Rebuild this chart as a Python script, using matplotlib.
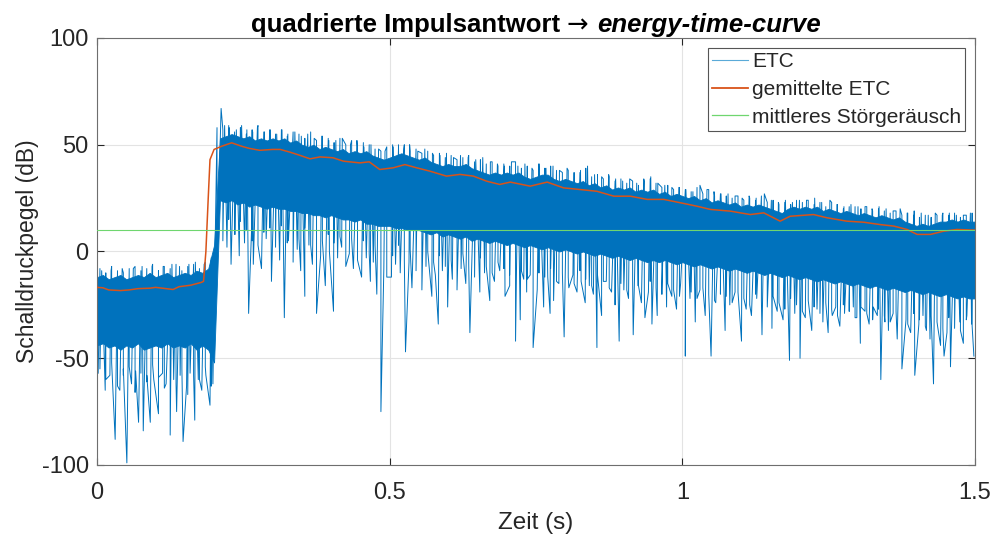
import numpy as np
import matplotlib
matplotlib.use("Agg")
import matplotlib.pyplot as plt
from matplotlib.lines import Line2D
from matplotlib.offsetbox import TextArea, HPacker, AnchoredOffsetbox

plt.rcParams["font.family"] = ["Liberation Sans", "DejaVu Sans"]
plt.rcParams["axes.unicode_minus"] = False

# ETC band: solid top / solid bottom, sampled every 10 ms from 0 to 1.5 s
t_band = np.arange(151) * 0.01
etc_hi = [
    -12, -11, -13, -12, -11, -13, -12, -11, -12, -10,
    -12, -11, -10, -12, -11, -10, -11, -9, -10, -8,
    3, 53, 54, 55, 54, 53, 54, 52, 53, 52,
    53, 52, 53, 51, 52, 50, 49, 50, 48, 49,
    48, 47, 48, 46, 47, 46, 47, 45, 44, 43,
    44, 45, 46, 45, 44, 43, 44, 42, 41, 40,
    41, 40, 40, 41, 39, 38, 37, 36, 37, 36,
    37, 36, 37, 35, 34, 35, 36, 36, 34, 33,
    34, 33, 32, 33, 31, 32, 30, 31, 29, 30,
    29, 30, 28, 29, 28, 29, 27, 28, 26, 27,
    26, 25, 26, 24, 25, 23, 24, 23, 22, 23,
    21, 22, 21, 22, 21, 20, 19, 18, 20, 21,
    20, 21, 20, 21, 19, 20, 19, 18, 19, 18,
    17, 18, 17, 16, 17, 16, 15, 16, 14, 13,
    12, 13, 12, 13, 14, 14, 15, 14, 15, 14,
    14,
]
etc_lo = [
    -44, -43, -45, -44, -46, -44, -45, -43, -46, -45,
    -44, -45, -43, -45, -44, -45, -43, -46, -44, -46,
    -52, 24, 23, 24, 22, 23, 21, 22, 21, 20,
    21, 20, 20, 19, 19, 18, 18, 17, 17, 16,
    17, 16, 15, 15, 14, 15, 13, 13, 12, 12,
    12, 11, 11, 10, 10, 10, 9, 8, 9, 7,
    8, 7, 6, 7, 5, 6, 5, 4, 5, 4,
    3, 4, 3, 2, 3, 2, 1, 2, 1, 0,
    1, 0, -1, 0, -1, -2, -1, -2, -3, -2,
    -3, -4, -3, -4, -5, -4, -5, -4, -5, -6,
    -5, -6, -7, -6, -7, -8, -7, -8, -9, -8,
    -9, -10, -9, -10, -11, -10, -11, -12, -11, -12,
    -13, -12, -13, -14, -13, -14, -15, -14, -15, -16,
    -15, -16, -17, -16, -17, -18, -17, -18, -19, -18,
    -19, -20, -19, -20, -21, -20, -21, -22, -21, -22,
    -22,
]

# ragged fringe of the ETC, sampled halfway between the band samples
t_fringe = np.arange(150) * 0.01 + 0.005
fringe_hi = [
    -8, -10, -7, -9, -10, -8, -7, -9, -8, -6,
    -9, -7, -8, -6, -9, -7, -6, -8, -5, -3,
    58, 57, 59, 56, 58, 55, 57, 59, 56, 57,
    55, 57, 54, 56, 55, 53, 56, 52, 54, 53,
    51, 53, 50, 52, 49, 51, 50, 48, 47, 49,
    50, 48, 50, 47, 48, 46, 47, 45, 46, 44,
    45, 43, 44, 45, 42, 43, 41, 42, 40, 41,
    40, 42, 39, 40, 38, 41, 39, 40, 38, 37,
    38, 36, 37, 39, 35, 36, 34, 35, 33, 34,
    32, 33, 31, 33, 34, 32, 30, 31, 29, 30,
    29, 28, 30, 27, 29, 26, 27, 26, 25, 26,
    24, 25, 24, 26, 23, 24, 22, 23, 22, 24,
    23, 24, 22, 23, 21, 23, 22, 20, 21, 21,
    20, 21, 19, 20, 19, 18, 19, 17, 18, 17,
    16, 17, 16, 17, 18, 17, 18, 16, 17, 18,
]
fringe_lo = [
    -55, -60, -52, -63, -58, -54, -66, -57, -61, -53,
    -59, -64, -56, -62, -55, -67, -58, -60, -54, -63,
    -5, 12, 15, 8, 14, 10, 5, 13, 9, 11,
    7, 12, 4, 10, 6, 11, 3, 9, 5, 8,
    4, 7, 1, 6, 2, 5, -1, 3, 0, 2,
    -2, 3, -4, 1, -3, -6, 0, -5, -2, -7,
    -4, -8, -1, -6, -9, -3, -7, -10, -5, -8,
    -11, -6, -9, -13, -7, -10, -12, -8, -14, -10,
    -12, -15, -9, -13, -16, -11, -14, -17, -12, -15,
    -18, -13, -16, -19, -14, -17, -20, -15, -18, -21,
    -16, -19, -22, -17, -20, -23, -18, -21, -24, -19,
    -22, -25, -20, -23, -26, -21, -24, -27, -22, -25,
    -28, -23, -26, -29, -24, -27, -30, -25, -28, -31,
    -26, -29, -32, -27, -30, -33, -28, -31, -34, -29,
    -32, -35, -30, -33, -36, -31, -34, -37, -32, -35,
]

# single downward spikes of the ETC (s, dB)
dip_t = [
    0.002, 0.014, 0.022, 0.031, 0.039, 0.045, 0.051, 0.059, 0.066, 0.071,
    0.079, 0.085, 0.091, 0.097, 0.105, 0.112, 0.118, 0.125, 0.131, 0.136,
    0.142, 0.147, 0.153, 0.159, 0.167, 0.173, 0.179, 0.186, 0.193, 0.198,
    0.215, 0.222, 0.229, 0.236, 0.243, 0.252, 0.259, 0.264, 0.267, 0.275,
    0.281, 0.289, 0.298, 0.305, 0.312, 0.320, 0.327, 0.335, 0.342, 0.348,
    0.355, 0.362, 0.368, 0.375, 0.382, 0.390, 0.397, 0.404, 0.411, 0.418,
    0.425, 0.431, 0.438, 0.445, 0.452, 0.460, 0.467, 0.472, 0.478, 0.485,
    0.490, 0.495, 0.503, 0.510, 0.518, 0.527, 0.533, 0.538, 0.545, 0.555,
    0.562, 0.572, 0.578, 0.583, 0.590, 0.599, 0.607, 0.615, 0.622, 0.630,
    0.637, 0.645, 0.654, 0.662, 0.671, 0.679, 0.688, 0.697, 0.705, 0.715,
    0.723, 0.729, 0.734, 0.740, 0.745, 0.752, 0.763, 0.770, 0.774, 0.780,
    0.789, 0.798, 0.806, 0.813, 0.820, 0.827, 0.834, 0.841, 0.848, 0.854,
    0.862, 0.870, 0.879, 0.885, 0.892, 0.900, 0.908, 0.916, 0.924, 0.930,
    0.936, 0.942, 0.948, 0.957, 0.965, 0.973, 0.982, 0.990, 0.997, 1.005,
    1.013, 1.022, 1.030, 1.039, 1.049, 1.057, 1.065, 1.073, 1.081, 1.090,
    1.101, 1.109, 1.118, 1.127, 1.136, 1.145, 1.153, 1.162, 1.172, 1.183,
    1.192, 1.201, 1.210, 1.221, 1.230, 1.240, 1.249, 1.256, 1.262, 1.269,
    1.277, 1.285, 1.292, 1.298, 1.304, 1.312, 1.319, 1.326, 1.333, 1.339,
    1.346, 1.352, 1.360, 1.367, 1.375, 1.382, 1.390, 1.397, 1.404, 1.411,
    1.417, 1.423, 1.429, 1.436, 1.441, 1.447, 1.452, 1.458, 1.465, 1.474,
    1.480, 1.486, 1.494, 1.498,
]
dip_db = [
    -57, -65, -58, -88, -65, -55, -99, -62, -56, -80,
    -84, -58, -80, -60, -76, -57, -62, -86, -60, -75,
    -58, -89, -63, -57, -79, -60, -65, -58, -72, -62,
    5, 2, -6, 8, -2, 4, -29, 10, -6, 3,
    -8, 6, -14, 2, -4, -31, 5, -5, 1, -9,
    -21, 3, -6, -29, -2, -16, 0, -28, -3, 2,
    -7, -1, -8, -4, -12, -3, -14, -5, -20, -75,
    -8, -12, -12, -6, -10, -47, -5, -17, -9, -18,
    -7, -21, -11, -34, -9, -26, -13, -18, -8, -15,
    -38, -12, -19, -10, -23, -14, -9, -21, -16, -42,
    -32, -13, -19, -11, -45, -18, -26, -12, -29, -23,
    -15, -40, -17, -11, -19, -14, -24, -16, -20, -45,
    -30, -14, -19, -25, -42, -18, -22, -39, -16, -24,
    -31, -19, -34, -30, -18, -26, -21, -27, -15, -49,
    -22, -33, -18, -30, -49, -24, -20, -37, -25, -19,
    -42, -27, -30, -22, -39, -26, -36, -28, -32, -51,
    -29, -50, -31, -37, -27, -33, -38, -30, -26, -35,
    -29, -24, -26, -31, -43, -28, -34, -26, -30, -60,
    -33, -37, -29, -41, -55, -32, -38, -58, -34, -30,
    -37, -41, -62, -35, -44, -49, -38, -54, -36, -33,
    -43, -30, -34, -49,
]

# single upward spikes of the ETC (s, dB)
peak_t = [
    0.008, 0.024, 0.043, 0.062, 0.077, 0.094, 0.113, 0.128, 0.141, 0.157,
    0.168, 0.183, 0.195, 0.212, 0.218, 0.226, 0.238, 0.247, 0.256, 0.266,
    0.274, 0.286, 0.296, 0.307, 0.316, 0.326, 0.338, 0.349, 0.360, 0.371,
    0.384, 0.396, 0.408, 0.419, 0.433, 0.444, 0.456, 0.468, 0.481, 0.492,
    0.506, 0.515, 0.524, 0.534, 0.548, 0.560, 0.573, 0.586, 0.597, 0.609,
    0.621, 0.634, 0.647, 0.659, 0.672, 0.684, 0.696, 0.708, 0.719, 0.731,
    0.743, 0.755, 0.767, 0.779, 0.790, 0.803, 0.815, 0.826, 0.838, 0.850,
    0.862, 0.874, 0.886, 0.898, 0.910, 0.922, 0.934, 0.946, 0.958, 0.970,
    0.982, 0.994, 1.006, 1.018, 1.030, 1.042, 1.054, 1.066, 1.078, 1.090,
    1.102, 1.114, 1.126, 1.140, 1.152, 1.164, 1.176, 1.188, 1.200, 1.212,
    1.226, 1.238, 1.252, 1.264, 1.276, 1.288, 1.300, 1.312, 1.324, 1.336,
    1.348, 1.360, 1.372, 1.384, 1.396, 1.408, 1.420, 1.432, 1.444, 1.456,
    1.468, 1.480, 1.492,
]
peak_db = [
    -9, -9, -8, -8, -7, -7, -7, -6, -7, -6,
    -5, -6, -4, 67, 59, 58, 57, 59, 57, 56,
    58, 56, 57, 55, 57, 55, 56, 54, 55, 53,
    54, 52, 52, 53, 50, 52, 49, 50, 48, 47,
    49, 50, 48, 50, 47, 48, 46, 45, 46, 44,
    45, 44, 43, 44, 42, 41, 40, 42, 40, 41,
    39, 41, 39, 40, 38, 39, 37, 38, 40, 36,
    35, 36, 34, 33, 34, 32, 34, 35, 32, 31,
    30, 30, 29, 28, 31, 29, 28, 27, 27, 26,
    25, 26, 25, 27, 24, 23, 24, 23, 24, 24,
    25, 23, 24, 22, 21, 22, 21, 21, 20, 21,
    20, 19, 20, 18, 19, 18, 17, 18, 17, 18,
    17, 17, 18,
]

# averaged ETC
avg_t = [
    0.0, 0.01, 0.02, 0.04, 0.055, 0.07, 0.09, 0.10, 0.115, 0.13,
    0.14, 0.16, 0.178, 0.182, 0.186, 0.19, 0.193, 0.20, 0.213, 0.23,
    0.247, 0.26, 0.278, 0.30, 0.313, 0.33, 0.347, 0.364, 0.381, 0.403,
    0.421, 0.449, 0.465, 0.483, 0.506, 0.526, 0.546, 0.569, 0.597, 0.62,
    0.643, 0.666, 0.688, 0.706, 0.74, 0.769, 0.797, 0.826, 0.854, 0.883,
    0.911, 0.94, 0.968, 0.997, 1.025, 1.048, 1.082, 1.116, 1.139, 1.167,
    1.184, 1.224, 1.247, 1.281, 1.31, 1.338, 1.361, 1.384, 1.401, 1.424,
    1.446, 1.469, 1.5,
]
avg_db = [
    -16.8, -17.0, -18.0, -18.3, -18.0, -17.4, -17.2, -16.8, -17.3, -17.8,
    -16.5, -15.8, -14.5, -14.0, 0.0, 25.0, 43.0, 47.8, 49.3, 50.9,
    49.3, 48.3, 47.4, 47.8, 47.8, 46.5, 45.0, 43.4, 44.3, 43.9,
    42.3, 41.5, 42.0, 38.4, 39.2, 40.7, 39.2, 37.6, 35.3, 36.1,
    35.3, 32.9, 31.4, 32.5, 30.6, 32.5, 29.8, 29.0, 28.2, 25.9,
    25.9, 24.4, 24.4, 22.8, 21.2, 19.7, 18.9, 17.3, 18.1, 14.2,
    16.5, 17.3, 15.8, 14.2, 13.7, 12.6, 11.9, 10.3, 8.0, 8.0,
    9.5, 10.3, 10.0,
]

noise_level = 10.0

blue = "#0072BD"
orange = "#D95319"
green = "#6fd66f"

# all single ETC samples in time order (fringe top/bottom, dips, peaks)
samp_t = np.concatenate([np.repeat(t_fringe, 2), dip_t, peak_t])
samp_db = np.concatenate([np.column_stack([fringe_hi, fringe_lo]).ravel(), dip_db, peak_db])
order = np.argsort(samp_t, kind="stable")

fig = plt.figure(figsize=(9.97, 5.38), dpi=100)
ax = fig.add_axes([0.0973, 0.1357, 0.8807, 0.7937])

ax.fill_between(t_band, etc_lo, etc_hi, color=blue, lw=0.6, zorder=2)
ax.plot(samp_t[order], samp_db[order], color=blue, lw=0.7, zorder=2)
ax.plot(avg_t, avg_db, color=orange, lw=1.1, zorder=3)
ax.axhline(noise_level, color=green, lw=0.8, zorder=4)

ax.set_xlim(0, 1.5)
ax.set_ylim(-100, 100)
ax.set_xticks([0, 0.5, 1, 1.5])
ax.set_xticklabels(["0", "0.5", "1", "1.5"])
ax.set_yticks([-100, -50, 0, 50, 100])
ax.grid(True, color="#e3e3e3", lw=0.8, zorder=0)
ax.set_axisbelow(True)
ax.tick_params(direction="in", length=5, top=True, right=True, labelsize=17,
               colors="#262626", width=0.8)
ax.tick_params(axis="x", pad=12)
ax.tick_params(axis="y", pad=6)
for sp in ax.spines.values():
    sp.set_color("#6e6e6e")
    sp.set_linewidth(0.8)

ax.set_xlabel("Zeit (s)", fontsize=17.5, color="#262626", labelpad=6)
ax.set_ylabel("Schalldruckpegel (dB)", fontsize=16.5, color="#262626", labelpad=2)

handles = [
    Line2D([], [], color="#5aaad8", lw=0.8),
    Line2D([], [], color=orange, lw=1.3),
    Line2D([], [], color=green, lw=0.9),
]
labels = ["ETC", "gemittelte ETC", "mittleres Störgeräusch"]
leg = ax.legend(handles, labels, loc="upper right", bbox_to_anchor=(0.9886, 0.9766),
                borderaxespad=0, fontsize=15, handlelength=1.7, handletextpad=0.2,
                labelspacing=0.42, fancybox=False, framealpha=1, borderpad=0.2)
leg.get_frame().set_edgecolor("#555555")
leg.get_frame().set_linewidth(0.8)
for txt in leg.get_texts():
    txt.set_color("#262626")

# title: bold part + arrow + bold italic part
title_parts = [
    TextArea("quadrierte Impulsantwort ", textprops=dict(fontsize=18.5, fontweight="bold", color="k")),
    TextArea("\u2192 ", textprops=dict(fontsize=18.5, color="k", family=["DejaVu Sans"])),
    TextArea("energy-time-curve", textprops=dict(fontsize=18.5, fontweight="bold", fontstyle="italic", color="k")),
]
title_box = HPacker(children=title_parts, align="baseline", pad=0, sep=0)
anchored = AnchoredOffsetbox(loc="lower center", child=title_box, pad=0, frameon=False,
                             bbox_to_anchor=(0.5, 1.001), bbox_transform=ax.transAxes,
                             borderpad=0)
ax.add_artist(anchored)

fig.savefig("out.png", dpi=100)
